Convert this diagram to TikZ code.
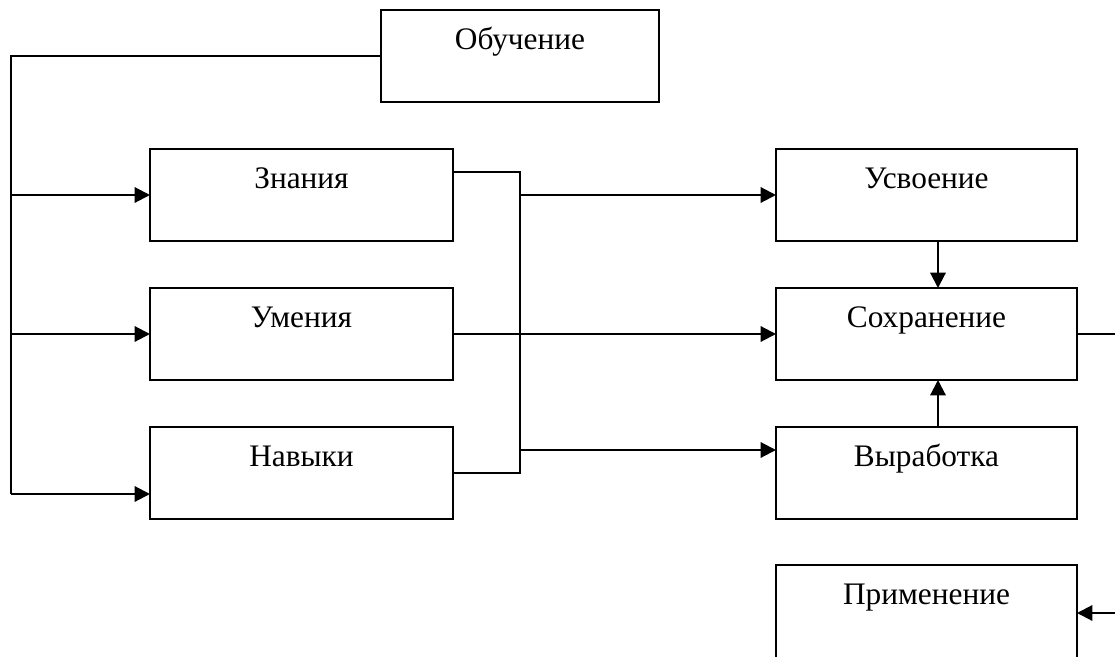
\documentclass[tikz,border=0pt]{standalone}
\usepackage{fontspec}
\setmainfont{Liberation Serif}
\usetikzlibrary{arrows.meta}
\begin{document}
\begin{tikzpicture}[x=0.75pt,y=-0.75pt,
  box/.style={draw,line width=1.6pt,anchor=north west,inner xsep=0pt,inner ysep=0pt,outer sep=0pt,
    text height=29.25pt,text depth=39.75pt,font=\fontsize{23.5}{25}\selectfont},
  conn/.style={line width=1.6pt},
  arr/.style={line width=1.6pt,-{Triangle[length=11.5pt,width=11.5pt]}}]
\useasboundingbox (0,0) rectangle (1115,657);
\clip (0,0) rectangle (1115,657);
% boxes
\node[box,minimum width=208.5pt] (ob) at (381,10) {Обучение};
\node[box,minimum width=227.25pt] (zn) at (150,149) {Знания};
\node[box,minimum width=227.25pt] (um) at (150,288) {Умения};
\node[box,minimum width=227.25pt] (nv) at (150,427) {Навыки};
\node[box,minimum width=225.75pt] (us) at (776,149) {Усвоение};
\node[box,minimum width=225.75pt] (so) at (776,288) {Сохранение};
\node[box,minimum width=225.75pt] (vy) at (776,427) {Выработка};
\node[box,minimum width=225.75pt,text depth=60pt] (pr) at (776,565) {Применение};
% helper coordinates
\coordinate (Lt) at (11,56);
\coordinate (Lb) at (11,494);
\coordinate (Bt) at (520,172);
\coordinate (Bb) at (520,473);
\coordinate (Bv) at (520,450);
\coordinate (Rs) at (1115,334);
\coordinate (Rp) at (1115,613);
\coordinate (Vx) at (938,0);
% left trunk
\draw[conn] (ob.west) -- (ob.west -| Lt) -- (Lb);
\draw[arr] (Lt |- zn.west) -- (zn.west);
\draw[arr] (Lt |- um.west) -- (um.west);
\draw[arr] (Lb) -- (nv.west |- Lb);
% middle bracket
\draw[conn] (zn.east |- Bt) -- (Bt) -- (Bb) -- (nv.east |- Bb);
\draw[arr] (Bt |- us.west) -- (us.west);
\draw[arr] (um.east) -- (so.west);
\draw[arr] (Bv) -- (vy.west |- Bv);
% vertical arrows
\draw[arr] (Vx |- us.south) -- (Vx |- so.north);
\draw[arr] (Vx |- vy.north) -- (Vx |- so.south);
% right side
\draw[conn] (so.east) -- (so.east -| Rs);
\draw[arr] (Rp) -- (pr.east |- Rp);
\end{tikzpicture}
\end{document}
